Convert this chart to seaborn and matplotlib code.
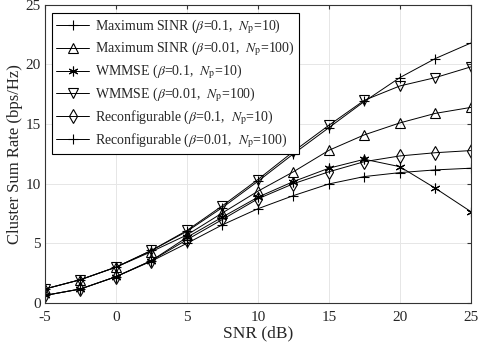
import pandas as pd
import matplotlib
matplotlib.use("Agg")
import matplotlib.pyplot as plt
import seaborn as sns

# data
snr = [-5, -2.5, 0, 2.5, 5, 7.5, 10, 12.5, 15, 17.5, 20, 22.5, 25]
labels = [
    r'Maximum SINR ($\beta$=0.1,  $N_{\rm p}$=10)',
    r'Maximum SINR ($\beta$=0.01,  $N_{\rm p}$=100)',
    r'WMMSE ($\beta$=0.1,  $N_{\rm p}$=10)',
    r'WMMSE ($\beta$=0.01,  $N_{\rm p}$=100)',
    r'Reconfigurable ($\beta$=0.1,  $N_{\rm p}$=10)',
    r'Reconfigurable ($\beta$=0.01,  $N_{\rm p}$=100)',
]
maxsinr_01 = [1.17, 1.95, 3.0, 4.4, 6.0, 8.0, 10.2, 12.5, 14.7, 16.9, 18.9, 20.5, 21.8]
maxsinr_001 = [1.17, 1.95, 3.0, 4.3, 5.7, 7.55, 9.37, 11.0, 12.8, 14.1, 15.1, 15.9, 16.4]
wmmse_01 = [0.63, 1.17, 2.2, 3.55, 5.5, 7.2, 8.87, 10.18, 11.3, 12.05, 11.43, 9.62, 7.66]
wmmse_001 = [1.17, 1.95, 3.0, 4.4, 6.08, 8.15, 10.35, 12.7, 14.9, 17.0, 18.2, 18.9, 19.8]
reconf_01 = [0.63, 1.17, 2.2, 3.55, 5.3, 7.0, 8.73, 10.0, 11.0, 11.85, 12.33, 12.6, 12.78]
reconf_001 = [0.63, 1.17, 2.2, 3.5, 5.0, 6.55, 7.9, 9.0, 9.98, 10.6, 10.93, 11.16, 11.3]
series = [maxsinr_01, maxsinr_001, wmmse_01, wmmse_001, reconf_01, reconf_001]
markers = ['+', '^', (6, 2, 0), 'v', 'd', '+']

sns.set_style('whitegrid')
plt.rcParams['font.family'] = ['Liberation Serif', 'DejaVu Serif']
plt.rcParams['mathtext.fontset'] = 'stix'
plt.rcParams['axes.unicode_minus'] = False

df = pd.concat([pd.DataFrame({'snr': snr, 'rate': s, 'scheme': lab})
                for s, lab in zip(series, labels)])

fig = plt.figure(figsize=(4.78, 3.49), dpi=100)
ax = fig.add_axes([0.094, 0.132, 0.891, 0.854])

for lab, mk in zip(labels, markers):
    sns.lineplot(data=df[df['scheme'] == lab], x='snr', y='rate', ax=ax,
                 color='black', linewidth=0.7, marker=mk, markersize=7,
                 markerfacecolor='none', markeredgecolor='black',
                 markeredgewidth=0.8, label=lab)

ax.set_xlim(-5, 25)
ax.set_ylim(0, 25)
ax.set_xticks([-5, 0, 5, 10, 15, 20, 25])
ax.set_yticks([0, 5, 10, 15, 20, 25])
ax.set_xlabel('SNR (dB)', fontsize=12.5, labelpad=1)
ax.set_ylabel('Cluster Sum Rate (bps/Hz)', fontsize=12, labelpad=2)
ax.tick_params(labelsize=11, direction='in', length=3, top=True, right=True,
               color='#333333')
ax.tick_params(axis='x', pad=6)
ax.tick_params(axis='y', pad=3)
ax.grid(True, color='#e6e6e6', linewidth=0.7)
for sp in ax.spines.values():
    sp.set_color('#333333')
    sp.set_linewidth(0.8)

leg = ax.legend(loc='upper left', fontsize=10, frameon=True, fancybox=False,
                edgecolor='black', framealpha=1, handlelength=2.4,
                borderpad=0.3, labelspacing=0.3, handletextpad=0.4,
                borderaxespad=0, bbox_to_anchor=(0.0164, 0.973))
leg.get_frame().set_linewidth(0.8)

fig.savefig('out.png', dpi=100)
